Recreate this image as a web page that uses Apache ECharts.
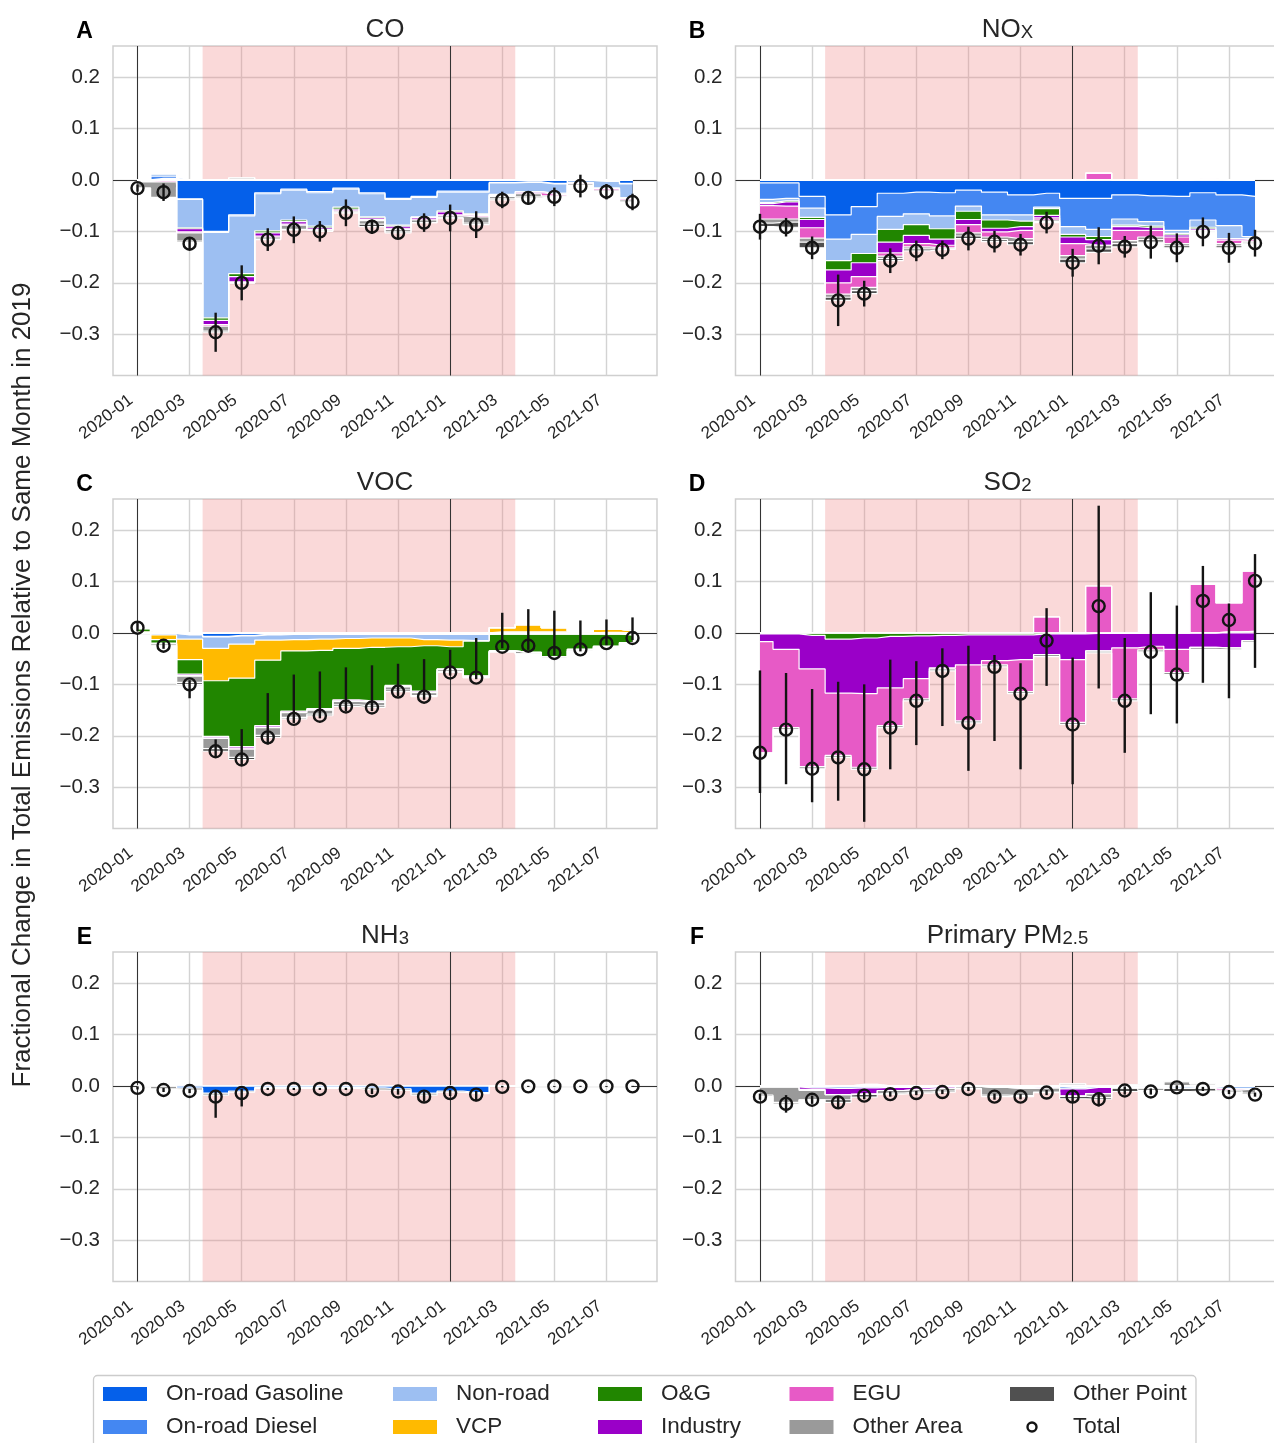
<!DOCTYPE html>
<html><head><meta charset="utf-8">
<script src="https://cdn.jsdelivr.net/npm/echarts@6/dist/echarts.min.js"></script>
<style>html,body{margin:0;padding:0;background:#fff}#c{width:1274px;height:1443px}</style>
</head><body><div id="c"></div>
<script>
// ---------- categories ----------
const months = ['2020-01','2020-02','2020-03','2020-04','2020-05','2020-06','2020-07','2020-08','2020-09','2020-10','2020-11','2020-12',
                '2021-01','2021-02','2021-03','2021-04','2021-05','2021-06','2021-07','2021-08'];
const xTickLabels = ['2020-01','2020-03','2020-05','2020-07','2020-09','2020-11','2021-01','2021-03','2021-05','2021-07'];
const yTickValues = [-0.3,-0.2,-0.1,0.0,0.1,0.2];
const sectors = ['On-road Gasoline','On-road Diesel','Non-road','VCP','O&G','Industry','EGU','Other Area','Other Point'];
const sectorColors = ['#0560ea','#4487f2','#9dbff2','#ffba00','#218600','#9a00c8','#e75ac6','#9a9a9a','#505050'];

// ---------- CO ----------
const co_gas     = [0,0.003,-0.037,-0.100,-0.068,-0.025,-0.018,-0.023,-0.016,-0.025,-0.036,-0.032,-0.022,-0.022,-0.005,-0.004,-0.007,-0.001,-0.002,-0.007];
const co_diesel  = [0,0.004,-0.001,-0.002,-0.002,-0.002,-0.002,-0.002,-0.002,-0.002,-0.002,-0.002,-0.002,-0.002,-0.001,-0.001,-0.001,0,-0.001,-0.001];
const co_nonroad = [-0.002,0.005,-0.055,-0.166,-0.112,-0.072,-0.058,-0.065,-0.035,-0.045,-0.050,-0.038,-0.036,-0.042,-0.022,-0.018,-0.018,-0.005,-0.013,-0.027];
const co_og      = [0,0,-0.002,-0.005,-0.006,-0.004,-0.003,-0.003,-0.004,-0.002,-0.002,-0.001,-0.002,-0.001,-0.001,0,0,0,0,0];
const co_ind     = [-0.001,-0.001,-0.006,-0.008,-0.010,-0.006,-0.005,-0.003,-0.003,-0.003,-0.004,-0.003,-0.006,-0.002,-0.001,-0.002,-0.002,0,-0.001,-0.001];
const co_egu     = [-0.001,-0.003,-0.002,-0.003,-0.002,-0.002,-0.002,-0.001,-0.001,-0.002,-0.002,-0.002,-0.002,-0.003,-0.002,-0.002,-0.003,-0.002,-0.003,-0.003];
const co_oa      = [-0.012,-0.030,-0.016,-0.010,0.004,-0.004,-0.008,-0.002,-0.003,-0.007,-0.005,-0.005,-0.004,-0.012,-0.005,-0.006,-0.002,-0.003,-0.003,-0.004];
const co_op      = [0,-0.002,-0.003,-0.002,0,-0.001,-0.001,-0.001,0,-0.005,-0.002,0,0,-0.003,-0.002,-0.002,0,0,0,0];
const co_total   = [-0.016,-0.024,-0.124,-0.296,-0.200,-0.116,-0.097,-0.100,-0.064,-0.091,-0.103,-0.083,-0.074,-0.087,-0.039,-0.035,-0.033,-0.012,-0.023,-0.043];
const co_err     = [0.007,0.017,0.012,0.038,0.034,0.022,0.026,0.020,0.026,0.014,0.012,0.018,0.026,0.026,0.016,0.013,0.018,0.022,0.015,0.016];

// ---------- NOx ----------
const nox_gas     = [-0.006,-0.006,-0.032,-0.068,-0.052,-0.026,-0.024,-0.025,-0.020,-0.024,-0.029,-0.026,-0.036,-0.036,-0.029,-0.031,-0.032,-0.025,-0.029,-0.032];
const nox_diesel  = [-0.032,-0.030,-0.023,-0.047,-0.054,-0.045,-0.042,-0.045,-0.031,-0.044,-0.039,-0.027,-0.055,-0.060,-0.047,-0.050,-0.066,-0.053,-0.060,-0.078];
const nox_nonroad = [-0.006,-0.005,-0.018,-0.042,-0.037,-0.025,-0.021,-0.025,-0.010,-0.010,-0.012,-0.003,-0.015,-0.014,-0.012,-0.009,-0.006,-0.014,-0.025,-0.003];
const nox_og      = [-0.002,-0.002,-0.004,-0.018,-0.018,-0.025,-0.021,-0.020,-0.016,-0.016,-0.011,-0.013,-0.005,-0.006,-0.003,-0.003,-0.003,-0.003,0,0];
const nox_ind     = [-0.004,-0.008,-0.016,-0.025,-0.027,-0.021,-0.016,-0.012,-0.010,-0.007,-0.007,-0.005,-0.013,-0.011,-0.007,-0.005,-0.004,-0.003,-0.003,-0.002];
const nox_egu     = [-0.026,-0.025,-0.020,-0.022,-0.021,-0.006,-0.006,-0.005,-0.016,-0.010,-0.016,-0.004,-0.023,0.013,-0.020,-0.013,-0.013,0.002,-0.007,-0.004];
const nox_oa      = [-0.008,-0.006,-0.008,-0.006,-0.006,-0.005,-0.004,-0.002,-0.006,-0.005,-0.006,-0.003,-0.007,-0.007,-0.006,-0.005,-0.004,-0.003,-0.004,-0.002];
const nox_op      = [-0.007,-0.010,-0.011,-0.006,-0.006,-0.004,-0.004,-0.001,-0.005,-0.004,-0.006,-0.002,-0.007,-0.007,-0.006,-0.005,-0.004,0,-0.004,-0.002];
const nox_total   = [-0.091,-0.092,-0.132,-0.234,-0.221,-0.157,-0.138,-0.136,-0.114,-0.120,-0.126,-0.083,-0.161,-0.128,-0.130,-0.121,-0.132,-0.101,-0.132,-0.123];
const nox_err     = [0.025,0.018,0.022,0.050,0.025,0.024,0.020,0.018,0.023,0.021,0.021,0.021,0.027,0.036,0.021,0.032,0.028,0.028,0.029,0.026];

// ---------- VOC ----------
const voc_gas     = [0,-0.001,-0.003,-0.007,-0.005,-0.003,-0.002,-0.002,-0.002,-0.002,-0.002,-0.002,-0.002,-0.002,-0.002,-0.002,-0.002,-0.002,-0.002,-0.002];
const voc_diesel  = [0,0,-0.001,-0.001,-0.001,-0.001,-0.001,-0.001,-0.001,-0.001,-0.001,-0.001,-0.001,-0.001,0,0,0,0,0,0];
const voc_nonroad = [0,-0.003,-0.008,-0.022,-0.016,-0.010,-0.010,-0.009,-0.008,-0.007,-0.007,-0.010,-0.011,-0.012,0.002,0.002,0.002,0,0.001,-0.002];
const voc_vcp     = [0.002,-0.009,-0.040,-0.063,-0.066,-0.039,-0.022,-0.022,-0.019,-0.018,-0.017,-0.012,-0.013,-0.001,0.008,0.014,0.008,0.003,0.006,0.004];
const voc_og      = [0.006,-0.007,-0.028,-0.108,-0.133,-0.127,-0.117,-0.113,-0.100,-0.104,-0.075,-0.088,-0.043,-0.068,-0.033,-0.036,-0.044,-0.030,-0.024,-0.015];
const voc_ind     = [0,-0.001,-0.003,-0.003,-0.003,-0.003,-0.002,-0.002,-0.002,-0.002,-0.002,-0.002,-0.001,0,0,0,0,0,0,0];
const voc_egu     = [0,0,-0.001,-0.001,-0.002,-0.001,-0.001,-0.001,-0.001,-0.001,-0.001,-0.001,0,0,0,0,0,0,0,0];
const voc_oa      = [0.002,-0.004,-0.012,-0.020,-0.016,-0.015,-0.009,-0.008,-0.007,-0.007,-0.006,-0.006,-0.004,-0.003,-0.002,-0.003,-0.003,-0.003,-0.002,0.003];
const voc_op      = [0,0,-0.004,-0.005,-0.004,-0.004,-0.003,-0.003,-0.003,-0.003,-0.003,-0.002,-0.002,0,0,0,0,0,0,0];
const voc_total   = [0.010,-0.025,-0.100,-0.230,-0.246,-0.203,-0.167,-0.161,-0.143,-0.145,-0.114,-0.124,-0.077,-0.087,-0.027,-0.025,-0.039,-0.032,-0.020,-0.010];
const voc_lo      = [0.003,-0.031,-0.127,-0.243,-0.258,-0.217,-0.175,-0.166,-0.152,-0.152,-0.123,-0.130,-0.083,-0.090,-0.030,-0.033,-0.044,-0.036,-0.024,-0.014];
const voc_hi      = [0.019,-0.018,-0.092,-0.207,-0.187,-0.117,-0.081,-0.075,-0.067,-0.063,-0.060,-0.051,-0.033,-0.010,0.039,0.046,0.043,0.024,0.026,0.030];

// ---------- SO2 ----------
const so2_og    = [-0.002,-0.002,-0.005,-0.012,-0.010,-0.007,-0.006,-0.005,-0.004,-0.004,-0.004,-0.002,-0.002,-0.001,-0.001,0,0,0,0.002,0.003];
const so2_ind   = [-0.015,-0.030,-0.065,-0.105,-0.108,-0.100,-0.083,-0.063,-0.058,-0.050,-0.048,-0.040,-0.050,-0.034,-0.028,-0.026,-0.032,-0.028,-0.029,-0.015];
const so2_egu   = [-0.216,-0.152,-0.190,-0.121,-0.143,-0.073,-0.039,-0.002,-0.109,-0.008,-0.062,0.031,-0.122,0.091,-0.099,-0.007,-0.045,0.094,0.056,0.117];
const so2_oa    = [0,-0.004,-0.004,-0.004,-0.004,-0.004,-0.004,-0.004,-0.004,-0.004,-0.004,-0.004,-0.004,-0.004,-0.004,-0.004,-0.004,-0.004,-0.004,-0.004];
const so2_total = [-0.233,-0.188,-0.264,-0.242,-0.265,-0.184,-0.132,-0.074,-0.175,-0.066,-0.118,-0.015,-0.178,0.052,-0.132,-0.037,-0.081,0.062,0.025,0.101];
const so2_lo    = [-0.311,-0.294,-0.329,-0.326,-0.367,-0.265,-0.218,-0.181,-0.268,-0.210,-0.265,-0.103,-0.294,-0.108,-0.233,-0.158,-0.176,-0.097,-0.127,-0.068];
const so2_hi    = [-0.073,-0.078,-0.109,-0.095,-0.100,-0.052,-0.055,-0.030,-0.025,-0.043,-0.059,0.048,-0.048,0.247,-0.010,0.079,0.053,0.130,0.057,0.153];

// ---------- NH3 ----------
const nh3_gas   = [0,0,-0.004,-0.014,-0.010,-0.003,-0.003,-0.003,-0.003,-0.004,-0.006,-0.014,-0.010,-0.013,0,0,0,0,0,0];
const nh3_oa    = [-0.002,-0.006,-0.004,-0.004,-0.002,-0.002,-0.002,-0.002,-0.002,-0.004,-0.003,-0.004,-0.002,-0.002,-0.001,0,0,0,0,-0.001];
const nh3_total = [-0.004,-0.008,-0.010,-0.021,-0.014,-0.006,-0.006,-0.006,-0.006,-0.009,-0.011,-0.021,-0.014,-0.017,-0.002,-0.001,-0.001,-0.001,-0.001,-0.001];
const nh3_lo    = [-0.007,-0.012,-0.014,-0.062,-0.040,-0.008,-0.008,-0.008,-0.008,-0.016,-0.017,-0.031,-0.020,-0.030,-0.003,-0.002,-0.002,-0.002,-0.002,-0.002];
const nh3_hi    = [-0.001,-0.004,-0.006,-0.010,-0.006,-0.004,-0.004,-0.004,-0.004,-0.005,-0.006,-0.012,-0.008,-0.010,0,0,0,0,0,0];

// ---------- Primary PM2.5 ----------
const pm_diesel  = [0,0,0,0,0,0,0,0,0,0,0,0,-0.003,0,0,0,0,0,0,0];
const pm_nonroad = [-0.002,-0.002,-0.004,-0.005,-0.004,-0.003,-0.003,-0.002,-0.001,-0.003,-0.003,-0.002,-0.003,-0.003,-0.004,-0.004,-0.005,-0.004,-0.006,-0.006];
const pm_ind     = [0,0,-0.003,-0.012,-0.012,-0.006,-0.004,-0.003,0,0,-0.002,-0.002,-0.014,-0.012,0,0,0,0,0,0];
const pm_egu     = [0,0,-0.002,0,0,0,0,0,0,0,0,0,0,0,0,0,0,0,-0.002,0];
const pm_oa      = [-0.016,-0.030,-0.018,-0.010,0.003,-0.005,-0.005,-0.005,-0.004,-0.015,-0.014,-0.008,0.004,-0.008,0.002,-0.005,0.008,0.004,-0.002,-0.008];
const pm_op      = [-0.003,-0.003,0,-0.005,-0.006,-0.002,-0.002,-0.002,-0.001,-0.003,-0.002,-0.001,-0.005,-0.003,-0.007,-0.002,-0.006,-0.006,-0.002,-0.003];
const pm_total   = [-0.021,-0.035,-0.027,-0.032,-0.019,-0.016,-0.014,-0.012,-0.006,-0.021,-0.021,-0.013,-0.021,-0.026,-0.009,-0.011,-0.003,-0.006,-0.012,-0.017];
const pm_err     = [0.006,0.017,0.008,0.012,0.007,0.005,0.004,0.004,0.004,0.006,0.005,0.005,0.012,0.014,0.008,0.006,0.004,0.004,0.004,0.004];

// lockdown period (between month centres) and reference months
const shadeFrom = 2.5, shadeTo = 14.5;
const refMonths = ['2020-01','2021-01'];

// ---------- panels ----------
const sym = (t, e) => ({ lo: t.map((v,i)=>v-e[i]), hi: t.map((v,i)=>v+e[i]) });
const panels = [
  { letter:'A', title:'{m|CO}', layers:[co_gas,co_diesel,co_nonroad,null,co_og,co_ind,co_egu,co_oa,co_op], total:co_total, ...sym(co_total,co_err) },
  { letter:'B', title:'{m|NO}{s|X}', layers:[nox_gas,nox_diesel,nox_nonroad,null,nox_og,nox_ind,nox_egu,nox_oa,nox_op], total:nox_total, ...sym(nox_total,nox_err) },
  { letter:'C', title:'{m|VOC}', layers:[voc_gas,voc_diesel,voc_nonroad,voc_vcp,voc_og,voc_ind,voc_egu,voc_oa,voc_op], total:voc_total, lo:voc_lo, hi:voc_hi },
  { letter:'D', title:'{m|SO}{s|2}', layers:[null,null,null,null,so2_og,so2_ind,so2_egu,so2_oa,null], total:so2_total, lo:so2_lo, hi:so2_hi },
  { letter:'E', title:'{m|NH}{s|3}', layers:[nh3_gas,null,null,null,null,null,null,nh3_oa,null], total:nh3_total, lo:nh3_lo, hi:nh3_hi },
  { letter:'F', title:'{m|Primary PM}{s|2.5}', layers:[null,pm_diesel,pm_nonroad,null,null,pm_ind,pm_egu,pm_oa,pm_op], total:pm_total, ...sym(pm_total,pm_err) }
];

// ---------- layout ----------
const FONT = 'Liberation Sans, Arial, Helvetica, sans-serif';
const TXT = '#262626';
const gridLefts = [113, 735.5], gridTops = [46, 499, 952], gridW = 544, gridH = 329.5;
const xMin = -0.94, xMax = 19.94, yMin = -0.38, yMax = 0.26;

const grids = [], xAxes = [], yAxes = [], series = [], graphics = [];
const xTickPos = xTickLabels.map(m => months.indexOf(m));

panels.forEach((p, k) => {
  const col = k % 2, row = Math.floor(k / 2);
  const left = gridLefts[col], top = gridTops[row];
  grids.push({ left, top, width: gridW, height: gridH, show: true, borderColor: '#cfcfcf', borderWidth: 1.5,
               backgroundColor: 'rgba(0,0,0,0)', containLabel: false, outerBoundsMode: 'none' });
  xAxes.push({
    type: 'value', gridIndex: k, min: xMin, max: xMax,
    axisLine: { show: false },
    axisTick: { show: false, customValues: xTickPos },
    splitLine: { show: true, lineStyle: { color: '#d3d3d3', width: 1.4 } },
    axisLabel: { customValues: xTickPos, rotate: 37, fontSize: 17, fontFamily: FONT, color: TXT, margin: 18,
                 padding: [0, 8, 0, 0],
                 formatter: v => months[Math.round(v)] }
  });
  yAxes.push({
    type: 'value', gridIndex: k, min: yMin, max: yMax,
    axisLine: { show: false },
    axisTick: { show: false, customValues: yTickValues },
    splitLine: { show: true, lineStyle: { color: '#d3d3d3', width: 1.4 } },
    axisLabel: { customValues: yTickValues, fontSize: 20.5, fontFamily: FONT, color: TXT, margin: 13,
                 formatter: v => (v < -1e-9 ? '\u2212' : '') + Math.abs(v).toFixed(1) }
  });

  // stacked step fills: cumulative sums of negative parts and of positive parts,
  // drawn outermost-first so each inner layer covers its share of the outer fill.
  ['neg', 'pos'].forEach(sign => {
    const running = months.map(() => 0);
    const layerSeries = [];
    p.layers.forEach((arr, s) => {
      if (!arr) return;
      arr.forEach((v, i) => { running[i] += sign === 'neg' ? Math.min(v, 0) : Math.max(v, 0); });
      layerSeries.push({
        type: 'line', name: sectors[s], xAxisIndex: k, yAxisIndex: k,
        step: 'middle', symbol: 'none', showSymbol: false,
        data: running.map((c, i) => [i, +c.toFixed(4)]),
        lineStyle: { color: '#ffffff', width: 1.2 },
        areaStyle: { color: sectorColors[s], opacity: 1, origin: 0 },
        itemStyle: { color: sectorColors[s] },
        z: 2, silent: true, animation: false
      });
    });
    layerSeries.reverse().forEach(sr => series.push(sr));
  });

  // error bars
  series.push({
    type: 'custom', name: 'err' + k, xAxisIndex: k, yAxisIndex: k, z: 3, silent: true,
    data: p.lo.map((l, i) => [i, l, p.hi[i]]),
    encode: { x: 0, y: [1, 2] },
    renderItem: (params, api) => {
      const a = api.coord([api.value(0), api.value(1)]);
      const b = api.coord([api.value(0), api.value(2)]);
      return { type: 'line', shape: { x1: a[0], y1: a[1], x2: b[0], y2: b[1] },
               style: { stroke: '#141414', lineWidth: 2.4 } };
    }
  });

  // totals + lockdown shading + reference lines
  series.push({
    type: 'scatter', name: 'Total', xAxisIndex: k, yAxisIndex: k, z: 4, silent: true,
    data: p.total.map((v, i) => [i, v]),
    symbol: 'circle', symbolSize: 12,
    itemStyle: { color: 'rgba(255,255,255,0)', borderColor: '#141414', borderWidth: 2.4, opacity: 1 },
    markArea: { silent: true, z: 1, itemStyle: { color: 'rgba(240,128,128,0.3)' },
                data: [[{ xAxis: shadeFrom }, { xAxis: shadeTo }]] },
    markLine: { silent: true, z: 1.5, symbol: ['none', 'none'], label: { show: false },
                lineStyle: { color: '#333333', width: 1, type: 'solid' }, emphasis: { disabled: true },
                data: [ ...refMonths.map(m => ({ xAxis: months.indexOf(m) })), { yAxis: 0 } ] }
  });

  // title and panel letter
  graphics.push({
    type: 'text', x: left + gridW / 2, y: 27.5 + row * 453, z: 10,
    style: { text: p.title, align: 'center', verticalAlign: 'middle', fill: TXT,
             rich: { m: { fontSize: 26, fontFamily: FONT, fill: TXT, lineHeight: 30, verticalAlign: 'bottom' },
                     s: { fontSize: 18.5, fontFamily: FONT, fill: TXT, lineHeight: 10, verticalAlign: 'bottom' } } }
  });
  graphics.push({
    type: 'text', x: [84.5, 697][col], y: 31.5 + row * 453, z: 10,
    style: { text: p.letter, align: 'center', verticalAlign: 'middle', fill: '#000',
             fontSize: 23, fontWeight: 'bold', fontFamily: FONT }
  });
});

// y-axis title
graphics.push({
  type: 'text', x: 23, y: 685, rotation: Math.PI / 2, z: 10,
  style: { text: 'Fractional Change in Total Emissions Relative to Same Month in 2019', align: 'center', verticalAlign: 'middle',
           fill: TXT, fontSize: 26, fontFamily: FONT }
});
// legend frame
graphics.push({
  type: 'rect', shape: { x: 93.5, y: 1375.5, width: 1102.5, height: 80, r: 4 }, z: 0,
  style: { fill: '#ffffff', stroke: '#cccccc', lineWidth: 1.3 }
});

const legendCols = [
  ['On-road Gasoline', 'On-road Diesel'], ['Non-road', 'VCP'], ['O&G', 'Industry'], ['EGU', 'Other Area'], ['Other Point', 'Total']
];
const legendLefts = [103, 393, 598, 789.5, 1010];
// hollow-circle legend icon, padded so the ring is smaller than the swatch height
const totalIcon = 'path://M-7,-7M7,7M-4.5,0A4.5,4.5,0,1,0,4.5,0A4.5,4.5,0,1,0,-4.5,0Z';
const legends = legendCols.map((names, c) => ({
  orient: 'vertical', left: legendLefts[c], top: 1382.5, padding: 0, itemGap: 10,
  itemWidth: 44, itemHeight: 14, selectedMode: false, z: 5,
  textStyle: { fontSize: 22.5, fontFamily: FONT, color: TXT, lineHeight: 22, padding: [0, 0, 0, 14] },
  data: names.map(n => n === 'Total'
    ? { name: n, icon: totalIcon, itemStyle: { color: 'rgba(255,255,255,0)', borderColor: '#141414', borderWidth: 2.4 } }
    : { name: n, icon: 'rect', itemStyle: { color: sectorColors[sectors.indexOf(n)], borderWidth: 0 } })
}));

const chart = echarts.init(document.getElementById('c'), null, { renderer: 'canvas' });
chart.setOption({
  animation: false,
  backgroundColor: '#ffffff',
  grid: grids, xAxis: xAxes, yAxis: yAxes, series, legend: legends, graphic: graphics
});
</script></body></html>
